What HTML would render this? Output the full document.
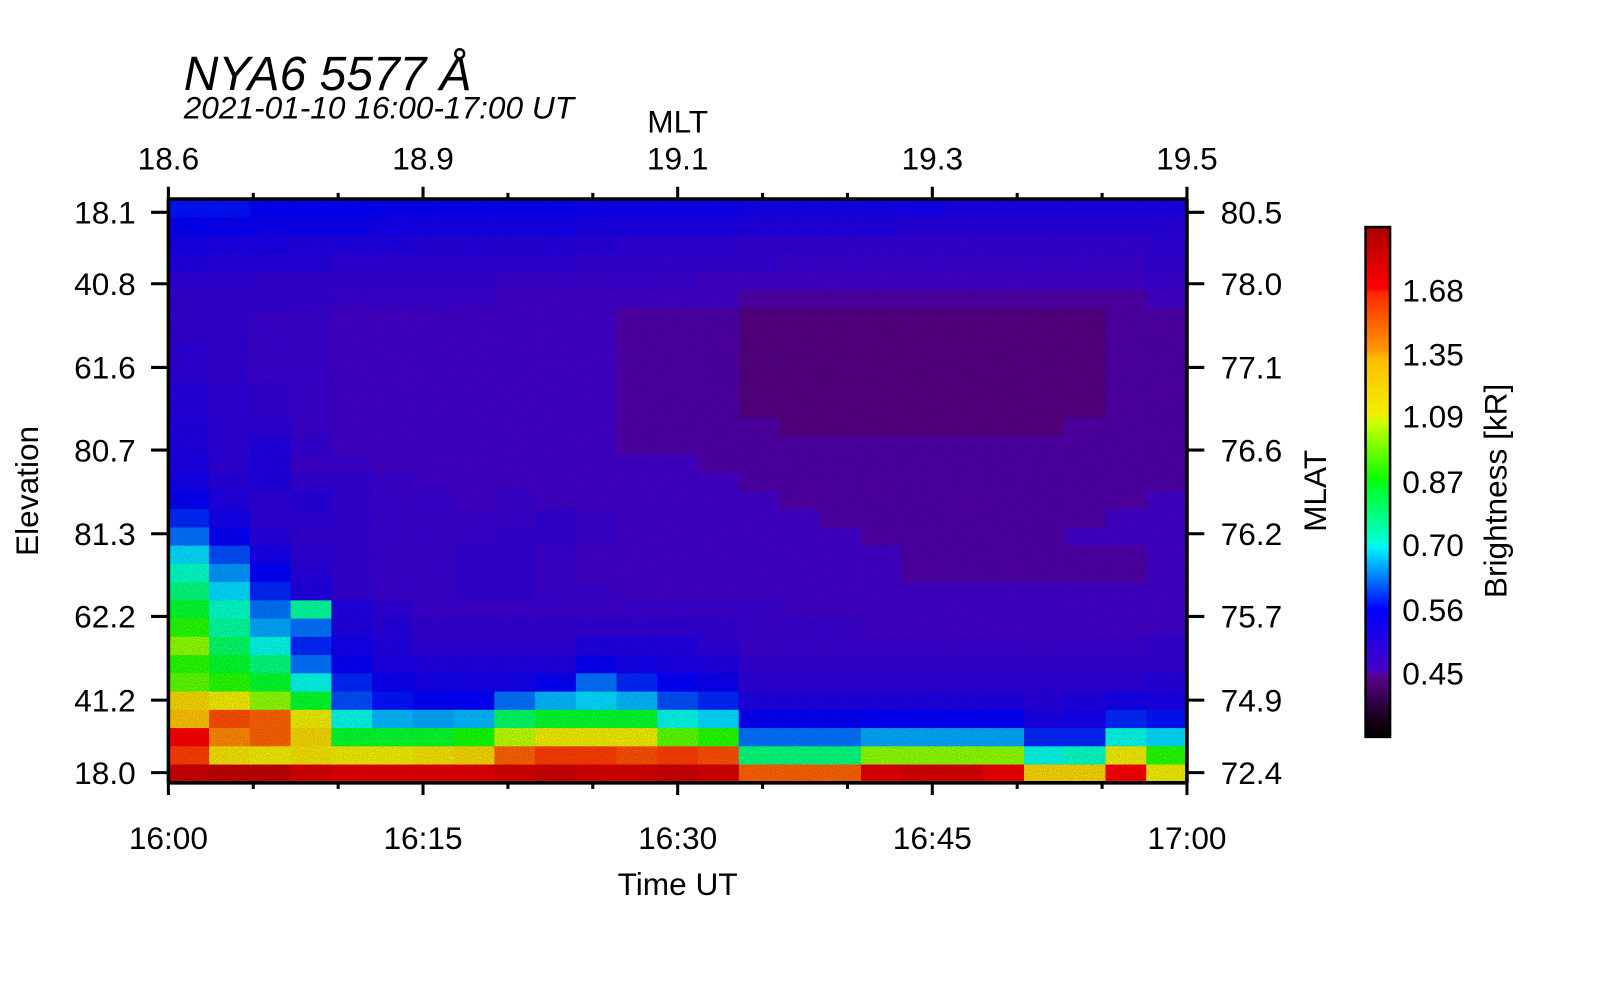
<!DOCTYPE html>
<html><head><meta charset="utf-8">
<style>
body{margin:0;background:#fff;}
svg text{font-family:"Liberation Sans",sans-serif;fill:#000;}
</style></head>
<body>
<svg id="chart" width="1600" height="1000" viewBox="0 0 1600 1000" xmlns="http://www.w3.org/2000/svg">
<defs>
<linearGradient id="cbar" x1="0" y1="1" x2="0" y2="0">
<stop offset="0" stop-color="#000000"/>
<stop offset="0.03" stop-color="#140014"/>
<stop offset="0.12" stop-color="#5a008c"/>
<stop offset="0.13" stop-color="#4600c8"/>
<stop offset="0.25" stop-color="#0000ff"/>
<stop offset="0.37" stop-color="#00f0ff"/>
<stop offset="0.38" stop-color="#00ffdc"/>
<stop offset="0.49" stop-color="#00ff28"/>
<stop offset="0.51" stop-color="#14ff00"/>
<stop offset="0.62" stop-color="#d2ff00"/>
<stop offset="0.63" stop-color="#f0f000"/>
<stop offset="0.74" stop-color="#ffbe00"/>
<stop offset="0.76" stop-color="#ff9600"/>
<stop offset="0.87" stop-color="#ff2800"/>
<stop offset="0.88" stop-color="#ff0000"/>
<stop offset="1" stop-color="#aa0000"/>
</linearGradient>
<filter id="noise" x="0" y="0" width="100%" height="100%">
<feTurbulence type="fractalNoise" baseFrequency="0.9" numOctaves="1" seed="3"/>
<feColorMatrix type="matrix" values="0 0 0 0 0  0 0 0 0 0  0 0 0 0 0  0 0 0 -1.4 1.0"/>
</filter>
</defs>
<g id="root" transform="scale(1.0206)">
<g id="cells"></g>
<rect x="165" y="195" width="998" height="572" filter="url(#noise)" opacity="0.3"/>
<g id="axes"></g>
<text x="180" y="88" font-size="47" font-style="italic">NYA6 5577 Å</text>
<text x="180" y="116" font-size="31" font-style="italic">2021-01-10 16:00-17:00 UT</text>
<text x="664" y="130" font-size="31" text-anchor="middle">MLT</text>
<text x="664" y="877" font-size="31" text-anchor="middle">Time UT</text>
<text transform="translate(37,481) rotate(-90)" font-size="31" text-anchor="middle">Elevation</text>
<text transform="translate(1299,481) rotate(-90)" font-size="31" text-anchor="middle">MLAT</text>
<rect x="1338" y="222.5" width="24" height="499.5" fill="url(#cbar)" stroke="#000" stroke-width="2.5"/>
<text transform="translate(1476,481) rotate(-90)" font-size="31" text-anchor="middle">Brightness [kR]</text>
</g>
</svg>
<script>
const timeLabels=["16:00","16:15","16:30","16:45","17:00"];
const mltLabels=["18.6","18.9","19.1","19.3","19.5"];
const elevLabels=["18.1","40.8","61.6","80.7","81.3","62.2","41.2","18.0"];
const mlatLabels=["80.5","78.0","77.1","76.6","76.2","75.7","74.9","72.4"];
const cbTicks=[0.45,0.56,0.70,0.87,1.09,1.35,1.68];
const brightness=[
[0.57,0.57,0.56,0.56,0.56,0.55,0.55,0.55,0.55,0.55,0.54,0.54,0.54,0.54,0.53,0.53,0.53,0.53,0.53,0.52,0.52,0.52,0.52,0.52,0.52],
[0.55,0.55,0.54,0.54,0.54,0.53,0.53,0.53,0.53,0.53,0.52,0.52,0.52,0.52,0.51,0.51,0.51,0.51,0.50,0.50,0.50,0.50,0.50,0.50,0.50],
[0.53,0.52,0.52,0.51,0.51,0.51,0.50,0.50,0.50,0.50,0.50,0.49,0.49,0.49,0.48,0.48,0.48,0.48,0.48,0.48,0.48,0.48,0.48,0.48,0.49],
[0.51,0.50,0.50,0.50,0.49,0.49,0.49,0.49,0.49,0.49,0.48,0.48,0.48,0.48,0.48,0.47,0.47,0.47,0.47,0.47,0.47,0.47,0.47,0.47,0.48],
[0.49,0.49,0.48,0.48,0.48,0.48,0.48,0.48,0.47,0.47,0.47,0.47,0.47,0.46,0.46,0.46,0.46,0.46,0.46,0.46,0.46,0.46,0.46,0.46,0.47],
[0.48,0.48,0.48,0.48,0.47,0.47,0.47,0.47,0.46,0.46,0.46,0.46,0.46,0.46,0.45,0.45,0.45,0.45,0.45,0.45,0.45,0.45,0.45,0.45,0.46],
[0.48,0.48,0.47,0.47,0.46,0.46,0.46,0.46,0.46,0.46,0.46,0.45,0.45,0.45,0.44,0.44,0.44,0.44,0.44,0.44,0.44,0.44,0.44,0.45,0.45],
[0.48,0.48,0.47,0.47,0.46,0.46,0.46,0.46,0.46,0.46,0.46,0.45,0.45,0.45,0.44,0.44,0.44,0.44,0.44,0.44,0.44,0.44,0.44,0.45,0.45],
[0.49,0.48,0.47,0.47,0.46,0.46,0.46,0.46,0.46,0.46,0.46,0.45,0.45,0.45,0.44,0.44,0.44,0.44,0.44,0.44,0.44,0.44,0.44,0.45,0.45],
[0.49,0.48,0.47,0.47,0.46,0.46,0.46,0.46,0.46,0.46,0.46,0.45,0.45,0.45,0.44,0.44,0.44,0.44,0.44,0.44,0.44,0.44,0.44,0.45,0.45],
[0.50,0.49,0.48,0.47,0.46,0.46,0.46,0.46,0.46,0.46,0.46,0.45,0.45,0.45,0.44,0.44,0.44,0.44,0.44,0.44,0.44,0.44,0.44,0.45,0.45],
[0.50,0.49,0.48,0.47,0.46,0.46,0.46,0.46,0.46,0.46,0.46,0.45,0.45,0.45,0.44,0.44,0.44,0.44,0.44,0.44,0.44,0.44,0.44,0.45,0.45],
[0.51,0.49,0.49,0.47,0.46,0.46,0.46,0.46,0.46,0.46,0.46,0.45,0.45,0.45,0.45,0.44,0.44,0.44,0.44,0.44,0.44,0.44,0.45,0.45,0.45],
[0.51,0.49,0.51,0.48,0.46,0.46,0.46,0.46,0.46,0.46,0.46,0.45,0.45,0.45,0.45,0.45,0.45,0.45,0.45,0.45,0.45,0.45,0.45,0.45,0.45],
[0.52,0.49,0.51,0.47,0.47,0.46,0.46,0.46,0.46,0.46,0.46,0.46,0.46,0.45,0.45,0.45,0.45,0.45,0.45,0.45,0.45,0.45,0.45,0.45,0.45],
[0.53,0.50,0.51,0.48,0.48,0.47,0.46,0.46,0.46,0.46,0.46,0.46,0.46,0.46,0.45,0.45,0.45,0.45,0.45,0.45,0.45,0.45,0.45,0.45,0.45],
[0.55,0.51,0.49,0.50,0.48,0.47,0.47,0.46,0.47,0.46,0.46,0.46,0.46,0.46,0.46,0.45,0.45,0.45,0.45,0.45,0.45,0.45,0.45,0.45,0.46],
[0.58,0.53,0.49,0.49,0.48,0.47,0.47,0.47,0.47,0.48,0.47,0.46,0.46,0.46,0.46,0.46,0.45,0.45,0.45,0.45,0.45,0.45,0.45,0.46,0.46],
[0.62,0.55,0.50,0.48,0.48,0.47,0.47,0.47,0.48,0.48,0.47,0.46,0.46,0.46,0.46,0.46,0.46,0.45,0.45,0.45,0.45,0.45,0.46,0.46,0.46],
[0.68,0.60,0.53,0.49,0.48,0.47,0.47,0.48,0.48,0.47,0.46,0.46,0.46,0.46,0.46,0.46,0.46,0.46,0.45,0.45,0.45,0.45,0.45,0.45,0.46],
[0.72,0.64,0.56,0.50,0.48,0.47,0.47,0.48,0.48,0.47,0.46,0.46,0.46,0.46,0.46,0.46,0.46,0.46,0.45,0.45,0.45,0.45,0.45,0.45,0.46],
[0.78,0.68,0.58,0.51,0.48,0.47,0.47,0.48,0.48,0.47,0.47,0.46,0.46,0.46,0.46,0.46,0.46,0.46,0.46,0.46,0.46,0.46,0.46,0.46,0.46],
[0.85,0.72,0.62,0.75,0.51,0.49,0.47,0.47,0.47,0.47,0.47,0.47,0.47,0.47,0.47,0.46,0.46,0.46,0.46,0.46,0.46,0.46,0.46,0.46,0.46],
[0.90,0.75,0.65,0.62,0.51,0.50,0.48,0.48,0.48,0.48,0.48,0.48,0.48,0.48,0.47,0.47,0.47,0.46,0.46,0.46,0.46,0.46,0.46,0.46,0.46],
[1.00,0.80,0.70,0.58,0.53,0.51,0.49,0.49,0.49,0.49,0.51,0.51,0.51,0.49,0.47,0.47,0.47,0.47,0.47,0.47,0.47,0.47,0.47,0.47,0.48],
[0.90,0.85,0.78,0.62,0.55,0.52,0.51,0.51,0.51,0.51,0.55,0.53,0.52,0.51,0.48,0.48,0.48,0.48,0.48,0.48,0.48,0.48,0.48,0.48,0.48],
[0.95,0.90,0.85,0.70,0.58,0.54,0.53,0.53,0.53,0.55,0.62,0.58,0.56,0.54,0.49,0.49,0.49,0.49,0.49,0.49,0.49,0.49,0.49,0.49,0.50],
[1.20,1.10,1.00,0.85,0.60,0.57,0.56,0.56,0.62,0.66,0.68,0.66,0.60,0.58,0.51,0.51,0.51,0.51,0.51,0.51,0.51,0.50,0.51,0.53,0.52],
[1.30,1.55,1.50,1.10,0.70,0.66,0.65,0.66,0.80,0.85,0.85,0.85,0.70,0.68,0.55,0.55,0.55,0.56,0.56,0.56,0.56,0.52,0.53,0.58,0.57],
[1.70,1.40,1.50,1.20,0.85,0.85,0.85,0.88,1.05,1.10,1.10,1.10,0.95,0.90,0.62,0.62,0.62,0.65,0.65,0.65,0.65,0.58,0.58,0.70,0.68],
[1.60,1.15,1.10,1.15,1.10,1.10,1.15,1.20,1.50,1.60,1.60,1.55,1.60,1.55,0.78,0.78,0.78,1.00,1.00,1.00,1.00,0.70,0.72,1.10,0.90],
[1.90,1.95,1.95,1.85,1.80,1.80,1.80,1.80,1.85,1.90,1.85,1.85,1.90,1.85,1.50,1.50,1.50,1.80,1.85,1.85,1.75,1.20,1.20,1.70,1.10]
];
const NS="http://www.w3.org/2000/svg";
const X0=165,X1=1163,Y0=195,Y1=767;
const VMIN=0.3614,VMAX=2.09,CB0=722,CB1=222.5;
const nRows=brightness.length,nCols=brightness[0].length;
function xCell(i){return X0+(X1-X0)*i/nCols;}
function yCell(j){return Y0+(Y1-Y0)*j/nRows;}
function frac(v){return Math.max(0,Math.min(1,Math.log(v/VMIN)/Math.log(VMAX/VMIN)));}
const stops=[[0,[0,0,0]],[0.03,[20,0,20]],[0.12,[90,0,140]],[0.13,[70,0,200]],[0.25,[0,0,255]],[0.37,[0,240,255]],[0.38,[0,255,220]],[0.49,[0,255,40]],[0.51,[20,255,0]],[0.62,[210,255,0]],[0.63,[240,240,0]],[0.74,[255,190,0]],[0.76,[255,150,0]],[0.87,[255,40,0]],[0.88,[255,0,0]],[1,[170,0,0]]];
function color(v){const f=frac(v);for(let k=1;k<stops.length;k++){if(f<=stops[k][0]){const a=stops[k-1],b=stops[k];const t=(f-a[0])/(b[0]-a[0]);const c=a[1].map((q,i)=>Math.round(q+(b[1][i]-q)*t));return `rgb(${c[0]},${c[1]},${c[2]})`;}}return "rgb(170,0,0)";}
const cells=document.getElementById('cells');
for(let j=0;j<nRows;j++)for(let i=0;i<nCols;i++){
const r=document.createElementNS(NS,'rect');


r.setAttribute('x',xCell(i));r.setAttribute('y',yCell(j));
r.setAttribute('width',(X1-X0)/nCols+0.6);r.setAttribute('height',(Y1-Y0)/nRows+0.6);
r.setAttribute('fill',color(brightness[j][i]));cells.appendChild(r);}
const axes=document.getElementById('axes');
function line(x1,y1,x2,y2,w,name){const l=document.createElementNS(NS,'line');


l.setAttribute('x1',x1);l.setAttribute('y1',y1);l.setAttribute('x2',x2);l.setAttribute('y2',y2);l.setAttribute('stroke','#000');l.setAttribute('stroke-width',w);axes.appendChild(l);}
function text(x,y,s,anchor,name){const t=document.createElementNS(NS,'text');


t.setAttribute('x',x);t.setAttribute('y',y);t.setAttribute('font-size',31);t.setAttribute('text-anchor',anchor);t.textContent=s;axes.appendChild(t);}
line(X0-1.5,Y0,X1+1.5,Y0,3.5,'top-axis-line');line(X0-1.5,Y1,X1+1.5,Y1,3.5,'bottom-axis-line');
line(X0,Y0,X0,Y1,3.5,'left-axis-line');line(X1,Y0,X1,Y1,3.5,'right-axis-line');
for(let k=0;k<=12;k++){const x=X0+(X1-X0)*k/12;const major=k%3===0;
line(x,Y1,x,Y1+(major?12:6),3,'x-tick');line(x,Y0,x,Y0-(major?12:6),3,'top-tick');}
timeLabels.forEach((s,i)=>text(X0+(X1-X0)*i/(timeLabels.length-1),832,s,'middle','x-tick-label'));
mltLabels.forEach((s,i)=>text(X0+(X1-X0)*i/(mltLabels.length-1),166,s,'middle','top-tick-label'));
const yPos=[208,278,360,441,523,604,686,757];
elevLabels.forEach((s,i)=>{line(X0-17,yPos[i],X0,yPos[i],3,'y-tick');text(133,yPos[i]+11,s,'end','y-tick-label');});
mlatLabels.forEach((s,i)=>{line(X1,yPos[i],X1+17,yPos[i],3,'right-tick');text(1196,yPos[i]+11,s,'start','right-tick-label');});
cbTicks.forEach(v=>{const y=CB0-(CB0-CB1)*frac(v);line(1338,y,1362,y,3,'colorbar-tick');text(1374,y+11,v.toFixed(2),'start','colorbar-tick-label');});
</script>
</body></html>
